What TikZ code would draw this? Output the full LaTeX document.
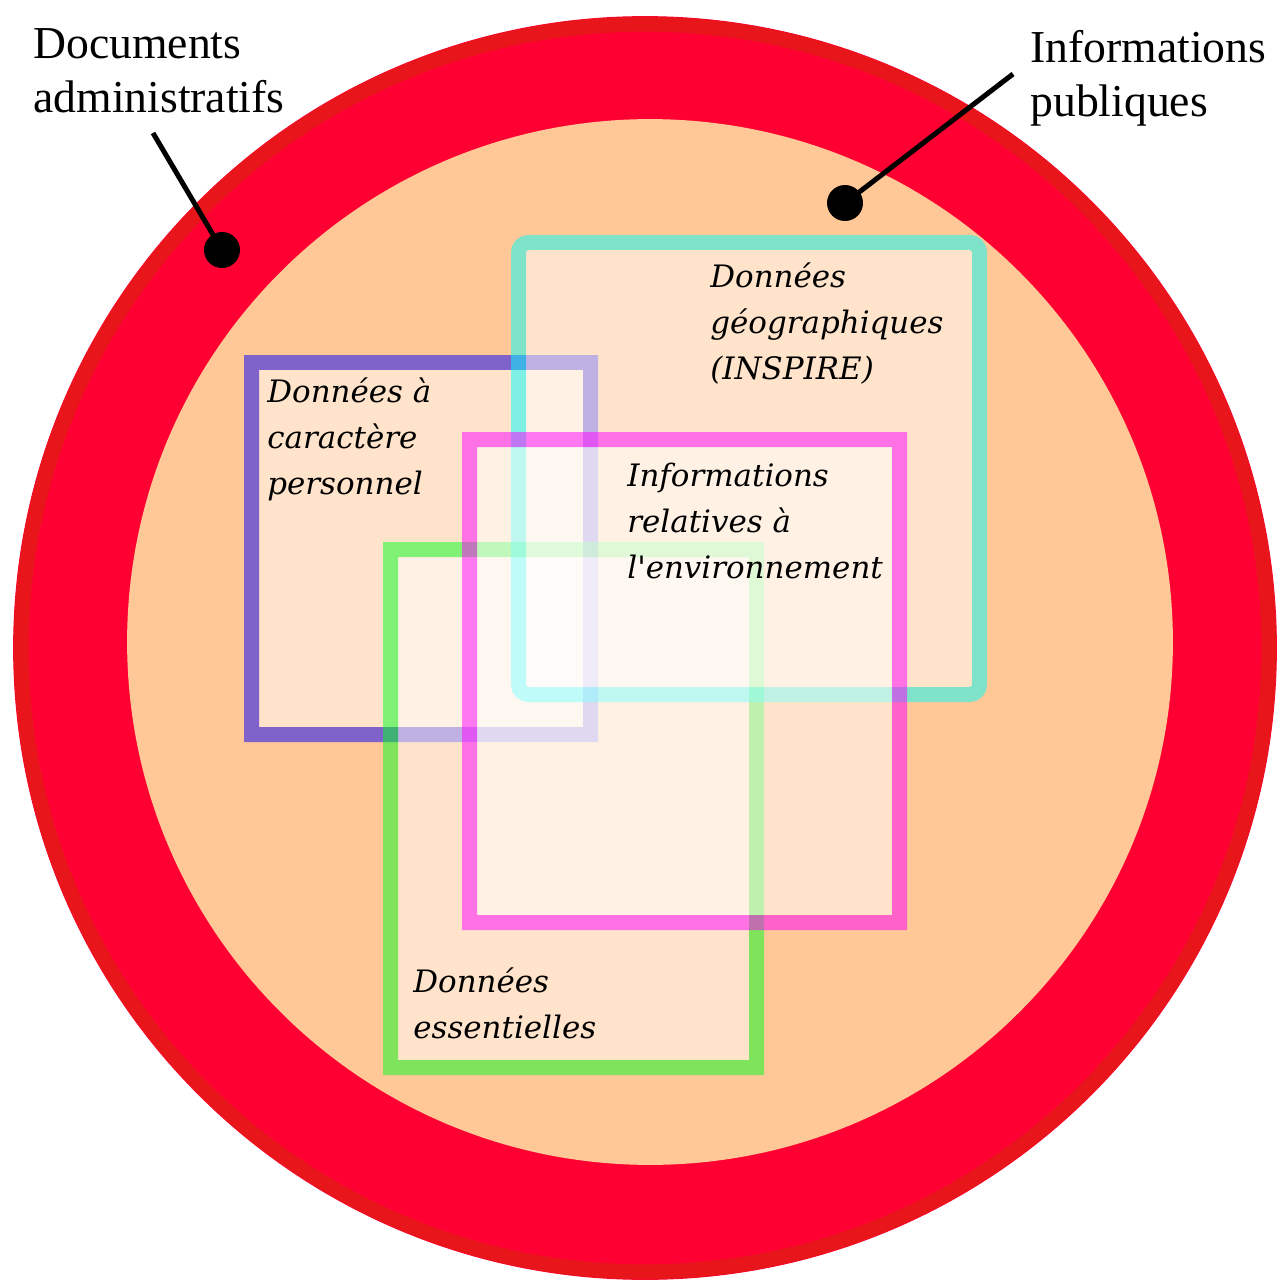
\documentclass[tikz,border=0pt]{standalone}
\usepackage{fontspec}
\setmainfont{Liberation Serif}
\newfontfamily\zonefont{DejaVu Serif}
\definecolor{RingRed}{HTML}{FF0033}
\definecolor{RingEdge}{HTML}{E8161A}
\definecolor{Peach}{HTML}{FFC896}
\definecolor{ZoneBlue}{HTML}{0000FF}
\definecolor{ZoneGreen}{HTML}{00FF22}
\definecolor{ZoneCyan}{HTML}{00FFFF}
\definecolor{ZoneMagenta}{HTML}{FF00FF}

\begin{document}
\begin{tikzpicture}[
  x=0.02cm, y=-0.02cm,
  zone/.style={draw=#1,fill=white,line width=0.3cm},
  zonetext/.style={anchor=base west,align=left,inner sep=0pt,font=\zonefont\itshape\fontsize{17.6}{26}\selectfont},
  title/.style={anchor=base west,align=left,inner sep=0pt,font=\fontsize{26}{31}\selectfont},
  pin/.style={circle,fill=black,minimum size=0.72cm,inner sep=0pt},
  leader/.style={line width=0.1cm,black}
]
\useasboundingbox (0,0) rectangle (1280,1283);

% rings
\fill[RingRed] (645,648) circle[radius=12.64cm];
\draw[RingEdge,line width=0.3cm] (645,648) circle[radius=12.48cm];
\fill[Peach] (650,642) circle[radius=10.46cm];

% overlapping zones
\begin{scope}[transparency group,opacity=0.5]
  \draw[zone=ZoneBlue] (251.5,362.5) rectangle (590.5,734.5);
\end{scope}
\begin{scope}[transparency group,opacity=0.5]
  \draw[zone=ZoneGreen] (390.5,549.5) rectangle (756.5,1067.5);
\end{scope}
\begin{scope}[transparency group,opacity=0.5]
  \draw[zone=ZoneCyan,rounded corners=0.2cm] (518.5,242.5) rectangle (979.5,694.5);
\end{scope}
\begin{scope}[transparency group,opacity=0.5]
  \draw[zone=ZoneMagenta] (469.5,439.5) rectangle (899.5,922.5);
\end{scope}

% base anchor = last line
\node[zonetext] (perso) at (267,494) {Données à\\caractère\\personnel};
\node[zonetext] (geo) at (710,379) {Données\\géographiques\\(INSPIRE)};
\node[zonetext] (envir) at (627,578) {Informations\\relatives à\\l'environnement};
\node[zonetext] (essent) at (413,1038) {Données\\essentielles};

% outside labels
\node[title] (docs) at (33,113) {Documents\\administratifs};
\node[title] (infos) at (1030,117) {Informations\\publiques};
\node[pin] (docspin) at (222,250) {};
\node[pin] (infospin) at (845,203) {};
\coordinate (docsfoot) at (153,133);
\coordinate (infosfoot) at (1013,74);
\draw[leader] (docsfoot) -- (docspin.center);
\draw[leader] (infosfoot) -- (infospin.center);
\end{tikzpicture}
\end{document}
